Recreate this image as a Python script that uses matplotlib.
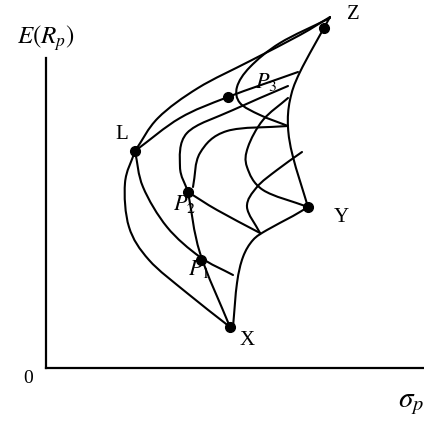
import numpy as np
import matplotlib.pyplot as plt
from matplotlib.path import Path
from matplotlib.patches import PathPatch

plt.rcParams['font.family'] = ['Liberation Serif', 'DejaVu Serif']
plt.rcParams['mathtext.fontset'] = 'stix'

# sigma_p (x) and E(R_p) (y) in arbitrary units
assets = {'X': (184, 41), 'Y': (262, 161), 'Z': (278, 340), 'L': (89, 217)}
portfolios = {'P_1': (155, 108), 'P_2': (142, 176), 'P_3': (182, 271)}

# curves traced through the figure (sigma, E)
curve_top = [(89, 217), (112, 250), (152, 280), (204, 307), (254, 333), (284, 351)]
curve_lp3 = [(89, 217), (134, 250), (182, 271), (252, 296)]
curve_loop = [(284, 350), (234, 325), (204, 301), (191, 281), (194, 265), (214, 253), (242, 242)]
curve_zy = [(284, 351), (254, 296), (244, 268), (242, 241), (247, 211), (262, 161)]
curve_yx = [(262, 161), (247, 152), (221, 138), (207, 128), (197, 111), (191, 85), (187, 41)]
curve_lx = [(89, 217), (79, 185), (83, 141), (103, 108), (141, 75), (184, 41)]
curve_l2 = [(89, 217), (97, 181), (121, 141), (154, 111), (187, 93)]
curve_p2a = [(242, 282), (187, 258), (141, 235), (134, 201), (142, 176)]
curve_p2x = [(142, 176), (154, 115), (184, 41)]
curve_p2b = [(142, 176), (171, 158), (214, 135)]
curve_h = [(242, 242), (181, 237), (154, 215), (147, 181)]
curve_k = [(242, 270), (217, 248), (202, 221), (201, 201), (217, 178), (262, 161)]
curve_m = [(256, 216), (231, 198), (211, 181), (201, 161), (214, 135)]

curves = [curve_top, curve_lp3, curve_loop, curve_zy, curve_yx, curve_lx, curve_l2,
          curve_p2a, curve_p2x, curve_p2b, curve_h, curve_k, curve_m]


def smooth_path(pts):
    # Catmull-Rom through the points, handed to matplotlib as cubic Bezier pieces
    p = np.array(pts, dtype=float)
    ext = np.vstack([2 * p[0] - p[1], p, 2 * p[-1] - p[-2]])
    verts = [p[0]]
    codes = [Path.MOVETO]
    for i in range(1, len(ext) - 2):
        p0, p1, p2, p3 = ext[i - 1], ext[i], ext[i + 1], ext[i + 2]
        verts += [p1 + (p2 - p0) / 6, p2 - (p3 - p1) / 6, p2]
        codes += [Path.CURVE4] * 3
    return Path(verts, codes)


fig = plt.figure(figsize=(4.24, 4.23), dpi=100)
ax = fig.add_axes([0, 0, 1, 1])
ax.set_xlim(-46, 378)
ax.set_ylim(-55, 368)

for c in curves:
    ax.add_patch(PathPatch(smooth_path(c), fill=False, lw=1.5, color='black',
                           capstyle='round', joinstyle='round'))

for name, (sx, ey) in {**assets, **portfolios}.items():
    ax.plot(sx, ey, 'o', color='black', ms=7)

# axes as in the book figure
for s in ['top', 'right']:
    ax.spines[s].set_visible(False)
ax.spines['left'].set_position(('data', 0))
ax.spines['bottom'].set_position(('data', 0))
ax.spines['left'].set_bounds(0, 310)
ax.spines['bottom'].set_bounds(0, 378)
ax.spines['left'].set_linewidth(1.6)
ax.spines['bottom'].set_linewidth(1.6)
ax.set_xticks([])
ax.set_yticks([])

lab = dict(fontsize=15, ha='center', va='center')
ax.text(307, 354, 'Z', **lab)
ax.text(76, 234, 'L', **lab)
ax.text(295, 151, 'Y', **lab)
ax.text(201, 28, 'X', **lab)
ax.text(220, 286, '$P_3$', fontsize=16, ha='center', va='center')
ax.text(139, 164, '$P_2$', fontsize=16, ha='center', va='center')
ax.text(153, 99, '$P_1$', fontsize=16, ha='center', va='center')
ax.text(-18, -10, '0', fontsize=14, ha='center', va='center')
ax.text(0, 330, '$E(R_p)$', fontsize=18, ha='center', va='center')
ax.text(352, -36, r'$\sigma_p$', fontsize=21, ha='left', va='center')

fig.savefig('out.png', dpi=100)
